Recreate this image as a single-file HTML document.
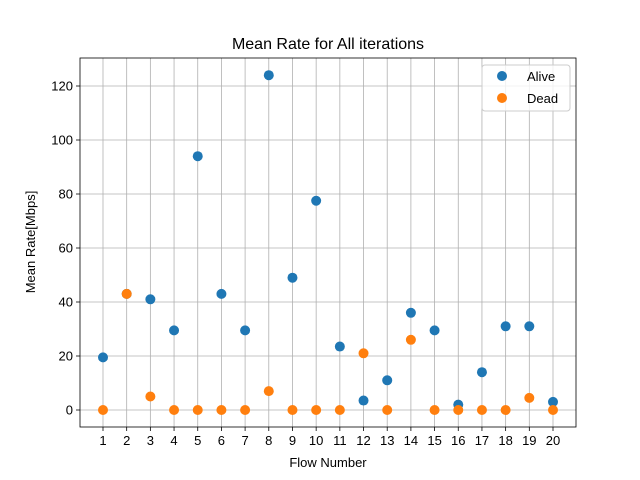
<!DOCTYPE html>
<html><head><meta charset="utf-8"><style>body{margin:0;background:#fff}svg{display:block;font-family:"Liberation Sans","DejaVu Sans",sans-serif}</style></head>
<body>
<svg id="c" width="640" height="480"></svg>
<script>
const flows=[1,2,3,4,5,6,7,8,9,10,11,12,13,14,15,16,17,18,19,20];
const alive=[19.5,43,41,29.5,94,43,29.5,124,49,77.5,23.5,3.5,11,36,29.5,2,14,31,31,3];
const dead=[0,43,5,0,0,0,0,7,0,0,0,21,0,26,0,0,0,0,4.5,0];
const yTicks=[0,20,40,60,80,100,120];
const L=80,R=576,T=58,B=427;
const xs=v=>103+(v-1)*(553-103)/19;
const ys=v=>410-v*2.7;
const s=document.getElementById('c');
const NS='http://www.w3.org/2000/svg';
function mk(t,a,txt){const e=document.createElementNS(NS,t);for(const k in a)e.setAttribute(k,a[k]);if(txt!==undefined)e.textContent=txt;s.appendChild(e);return e;}
let e;
e=mk('rect',{x:L,y:T,width:R-L,height:B-T,fill:'#fff'});


flows.forEach(f=>{const x=xs(f);
e=mk('line',{x1:x,y1:T,x2:x,y2:B,stroke:'#b0b0b0','stroke-width':0.8});


mk('line',{x1:x,y1:B,x2:x,y2:B+4,stroke:'#000','stroke-width':0.8});
e=mk('text',{x:x,y:B+18,'font-size':13,'text-anchor':'middle'},String(f));


});
yTicks.forEach(v=>{const y=ys(v);
e=mk('line',{x1:L,y1:y,x2:R,y2:y,stroke:'#b0b0b0','stroke-width':0.8});


mk('line',{x1:L-4,y1:y,x2:L,y2:y,stroke:'#000','stroke-width':0.8});
e=mk('text',{x:L-7,y:y+4.5,'font-size':13,'text-anchor':'end'},String(v));


});
e=mk('rect',{x:L,y:T,width:R-L,height:B-T,fill:'none',stroke:'#000','stroke-width':0.8});


flows.forEach((f,i)=>{e=mk('circle',{cx:xs(f),cy:ys(alive[i]),r:5,fill:'#1f77b4'});

});
flows.forEach((f,i)=>{e=mk('circle',{cx:xs(f),cy:ys(dead[i]),r:5,fill:'#ff7f0e'});

});
e=mk('text',{x:328,y:49,'font-size':16,'text-anchor':'middle'},'Mean Rate for All iterations');


e=mk('text',{x:328,y:467,'font-size':13,'text-anchor':'middle'},'Flow Number');


e=mk('text',{x:35,y:242,'font-size':13,'text-anchor':'middle',transform:'rotate(-90 35 242)'},'Mean Rate[Mbps]');


e=mk('rect',{x:482,y:65,width:88,height:46,rx:3,fill:'#fff','fill-opacity':0.8,stroke:'#ccc'});


e=mk('circle',{cx:502,cy:76,r:5,fill:'#1f77b4'});


e=mk('text',{x:527,y:81,'font-size':13},'Alive');


e=mk('circle',{cx:502,cy:98,r:5,fill:'#ff7f0e'});


e=mk('text',{x:527,y:103,'font-size':13},'Dead');


</script>
</body></html>
